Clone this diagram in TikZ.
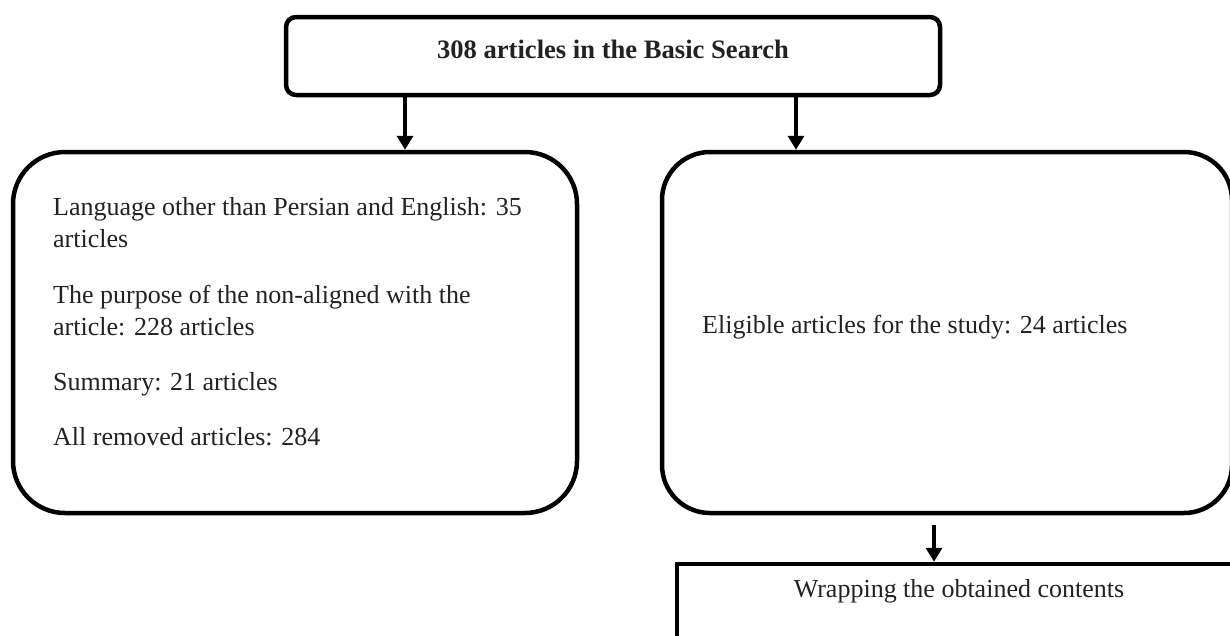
\documentclass[tikz,border=0pt]{standalone}
\usepackage{fontspec}
\setmainfont{Liberation Serif}
\usetikzlibrary{arrows.meta}
\definecolor{txtcol}{HTML}{222222}
\begin{document}
\begin{tikzpicture}[x=1pt,y=-1pt,
  box/.style={draw=black,line width=4.5pt,inner sep=0pt},
  txt/.style={inner sep=0pt,anchor=base west,text=txtcol,font=\fontsize{26}{32}\selectfont},
  arr/.style={draw=black,line width=4pt,-{Triangle[width=16pt,length=14pt]}}]
\useasboundingbox (0,0) rectangle (1230,635);
\clip (0,0) rectangle (1230,635);
% boxes
\node[box,rounded corners=10pt,minimum width=654pt,minimum height=78pt] (top) at (613,56) {};
\node[box,rounded corners=52pt,minimum width=564pt,minimum height=361pt] (lbox) at (295,332.5) {};
\node[box,rounded corners=48pt,minimum width=570pt,minimum height=361pt] (rbox) at (947,332.5) {};
\node[box,minimum width=564pt,minimum height=136pt] (bbox) at (959,632) {};
% texts
\node[txt,anchor=base,font=\bfseries\fontsize{26.6}{32}\selectfont] (toptxt) at (613,58) {308 articles in the Basic Search};
\node[txt] (l1) at (53,215) {Language other than Persian and English: 35};
\node[txt] (l2) at (53,247) {articles};
\node[txt] (l3) at (53,303) {The purpose of the non-aligned with the};
\node[txt] (l4) at (53,335) {article: 228 articles};
\node[txt] (l5) at (53,390) {Summary: 21 articles};
\node[txt] (l6) at (53,445) {All removed articles: 284};
\node[txt] (rtxt) at (702,333) {Eligible articles for the study: 24 articles};
\node[txt,anchor=base] (btxt) at (959,597) {Wrapping the obtained contents};
% connectors
\coordinate (a1) at (405,95);
\coordinate (a2) at (796,95);
\coordinate (a3) at (934,525);
\draw[arr] (a1 |- top.south) -- (a1 |- lbox.north);
\draw[arr] (a2 |- top.south) -- (a2 |- rbox.north);
\draw[arr] (a3) -- (a3 |- bbox.north);
\end{tikzpicture}
\end{document}
